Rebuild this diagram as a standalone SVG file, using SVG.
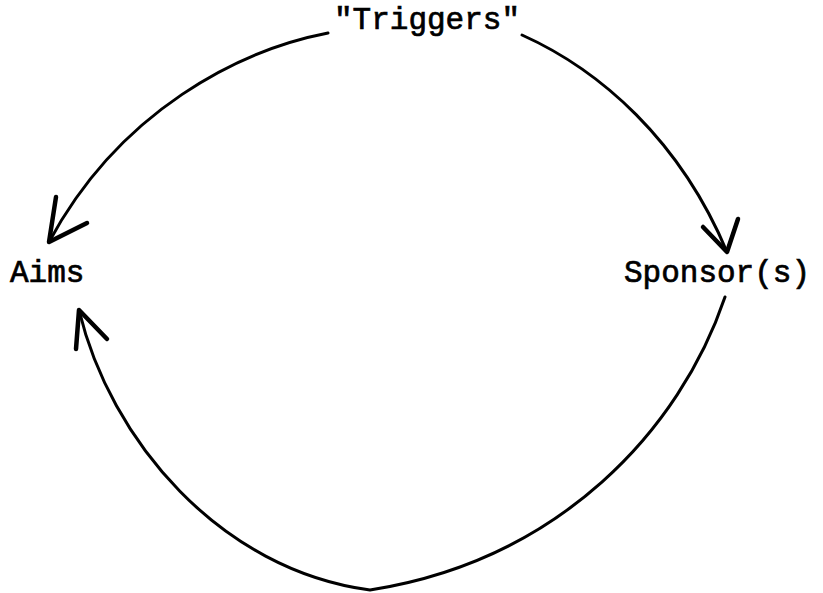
<svg xmlns="http://www.w3.org/2000/svg" width="823" height="593" viewBox="0 0 823 593">
<style>
.lbl{font-family:"Liberation Mono","Courier New",monospace;font-size:31px;fill:#000;stroke:#000;stroke-width:0.7}
.edge{fill:none;stroke:#000;stroke-width:3;stroke-linecap:round;stroke-linejoin:round}
.head{fill:none;stroke:#000;stroke-width:4.5;stroke-linecap:round;stroke-linejoin:round}
</style>
<rect width="823" height="593" fill="#fff"/>
<g id="connectors">
<path class="edge" d="M328,33 C240,50 120,110 49,242"/>
<path class="head" d="M56,197 L49,242 L87,223"/>
<path class="edge" d="M522,35 C600,70 680,140 727,252"/>
<path class="head" d="M703,227 L727,252 L738,219"/>
<path class="edge" d="M725,297 C680,430 560,560 370,590 C220,570 110,440 79,310"/>
<path class="head" d="M76,349 L79,310 L107,339"/>
</g>
<g id="node-triggers"><text class="lbl" x="334" y="29">"Triggers"</text></g>
<g id="node-aims"><text class="lbl" x="10" y="282">Aims</text></g>
<g id="node-sponsors"><text class="lbl" x="624" y="282">Sponsor(s)</text></g>
</svg>
